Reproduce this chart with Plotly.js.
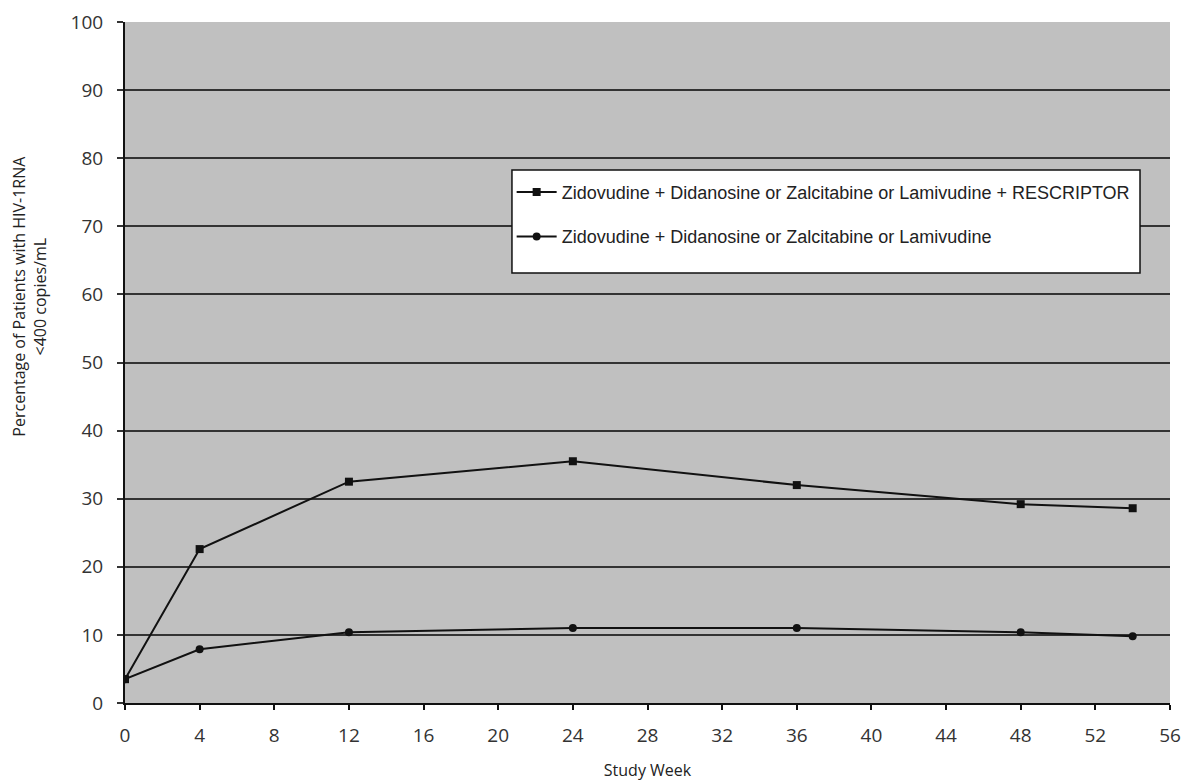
<!DOCTYPE html>
<html><head><meta charset="utf-8">
<script src="https://cdn.plot.ly/plotly-3.0.1.min.js"></script>
<style>html,body{margin:0;padding:0;background:#fff}#chart{width:1184px;height:781px}</style>
</head><body><div id="chart"></div>
<script>
const weeks = [0, 4, 12, 24, 36, 48, 54];
const withRescriptor = [3.5, 22.6, 32.5, 35.5, 32.0, 29.2, 28.6];
const withoutRescriptor = [3.5, 7.9, 10.4, 11.0, 11.0, 10.4, 9.8];
const seriesNames = [
  'Zidovudine + Didanosine or Zalcitabine or Lamivudine + RESCRIPTOR',
  'Zidovudine + Didanosine or Zalcitabine or Lamivudine'
];
const xTicks = [0, 4, 8, 12, 16, 20, 24, 28, 32, 36, 40, 44, 48, 52, 56];
const yTicks = [0, 10, 20, 30, 40, 50, 60, 70, 80, 90, 100];
const yTitle = 'Percentage of Patients with HIV-1RNA<br><400 copies/mL';
const xTitle = 'Study Week';

const traces = [
  {x: weeks, y: withRescriptor, name: seriesNames[0], mode: 'lines+markers', legendgroup: 'a',
   line: {color: '#111', width: 2}, marker: {symbol: 'square', size: 8, color: '#111'}},
  {x: weeks, y: withoutRescriptor, name: seriesNames[1], mode: 'lines+markers', legendgroup: 'b',
   line: {color: '#111', width: 2}, marker: {symbol: 'circle', size: 8, color: '#111'}}
];

const tickFont = {family: 'Open Sans, Lato, sans-serif', size: 19, color: '#333'};
const layout = {
  width: 1184, height: 781,
  margin: {l: 125, r: 14, t: 22, b: 78},
  paper_bgcolor: '#fff', plot_bgcolor: '#c0c0c0',
  showlegend: true,
  legend: {x: 0.37, y: 0.777, xanchor: 'left', yanchor: 'top', bgcolor: 'rgba(0,0,0,0)',
    borderwidth: 0, tracegroupgap: 18,
    font: {family: 'Liberation Sans, Arial, sans-serif', size: 18, color: '#222'},
    itemwidth: 40},
  shapes: [{type: 'rect', xref: 'paper', yref: 'paper', x0: 0.3703, x1: 0.9713, y0: 0.6314, y1: 0.7827,
    fillcolor: '#fff', line: {color: '#111', width: 1.5}, layer: 'above'}],
  xaxis: {range: [0, 56], tickvals: xTicks, ticktext: xTicks.map(String), showgrid: false, zeroline: false,
    showline: true, linecolor: '#111', linewidth: 2, ticks: 'outside', ticklen: 5, tickcolor: '#111', tickwidth: 2,
    tickfont: tickFont, ticklabelstandoff: 9,
    title: {text: xTitle, font: {family: 'Open Sans, Lato, sans-serif', size: 16, color: '#222'}, standoff: 20}},
  yaxis: {range: [0, 100], tickvals: yTicks, ticktext: yTicks.map(String), showgrid: true, gridcolor: '#333', gridwidth: 2,
    zeroline: false, showline: true, linecolor: '#111', linewidth: 2, ticks: 'outside', ticklen: 6, tickcolor: '#333', tickwidth: 2,
    tickfont: tickFont, ticklabelstandoff: 10},
  annotations: [{text: yTitle, xref: 'paper', yref: 'paper', x: -0.091, y: 0.598, xanchor: 'center', yanchor: 'middle',
    textangle: -90, showarrow: false, font: {family: 'Open Sans, Lato, sans-serif', size: 16, color: '#222'}}]
};
Plotly.newPlot('chart', traces, layout, {displayModeBar: false, staticPlot: true});
</script>
</body></html>
